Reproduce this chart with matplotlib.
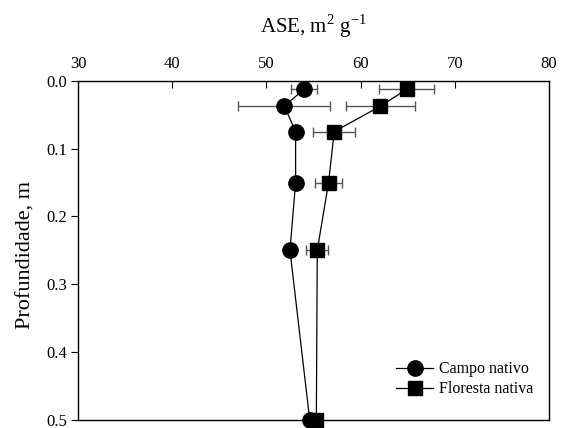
import matplotlib.pyplot as plt

plt.rcParams['font.family'] = 'Liberation Serif'
plt.rcParams['mathtext.fontset'] = 'custom'
plt.rcParams['mathtext.rm'] = 'Liberation Serif'

depth = [0.0125, 0.0375, 0.075, 0.15, 0.25, 0.5]

campo = [54.0, 51.9, 53.1, 53.1, 52.5, 54.6]
campo_err = [1.4, 4.9, 0.0, 0.0, 0.0, 0.0]

floresta = [64.9, 62.1, 57.2, 56.6, 55.4, 55.3]
floresta_err = [2.9, 3.7, 2.25, 1.4, 1.15, 0.0]

fig = plt.figure(figsize=(5.66, 4.28), dpi=100)
ax = fig.add_axes([0.1378, 0.0187, 0.8322, 0.7927])

ax.errorbar(campo, depth, xerr=campo_err, fmt='none', ecolor='#555555',
            elinewidth=1, capsize=3.5, capthick=1, zorder=1)
ax.errorbar(floresta, depth, xerr=floresta_err, fmt='none', ecolor='#555555',
            elinewidth=1, capsize=3.5, capthick=1, zorder=1)
ax.plot(campo, depth, color='black', lw=0.9, marker='o', markersize=11,
        label='Campo nativo', zorder=3, clip_on=False)
ax.plot(floresta, depth, color='black', lw=0.9, marker='s', markersize=10,
        label='Floresta nativa', zorder=3, clip_on=False)

ax.set_xlim(30, 80)
ax.set_ylim(0.5, 0.0)
ax.set_xticks([30, 40, 50, 60, 70, 80])
ax.set_yticks([0.0, 0.1, 0.2, 0.3, 0.4, 0.5])
ax.set_yticklabels(['0.0', '0.1', '0.2', '0.3', '0.4', '0.5'])

ax.xaxis.tick_top()
ax.tick_params(axis='x', direction='in', length=5, labelsize=12, pad=6,
               top=True, bottom=False)
ax.tick_params(axis='y', direction='out', length=5, labelsize=12, pad=3,
               left=True, right=False)

ax.set_xlabel('ASE, m$^2$ g$^{-1}$', fontsize=15)
ax.xaxis.set_label_position('top')
ax.xaxis.set_label_coords(0.5, 1.14)
ax.set_ylabel('Profundidade, m', fontsize=16)
ax.yaxis.set_label_coords(-0.09, 0.485)

for s in ax.spines.values():
    s.set_linewidth(1)

ax.legend(loc='lower right', bbox_to_anchor=(0.998, 0.025), frameon=False,
          fontsize=11.5, handlelength=2.3, handletextpad=0.4, labelspacing=0.25)

fig.savefig('out.png', dpi=100)
